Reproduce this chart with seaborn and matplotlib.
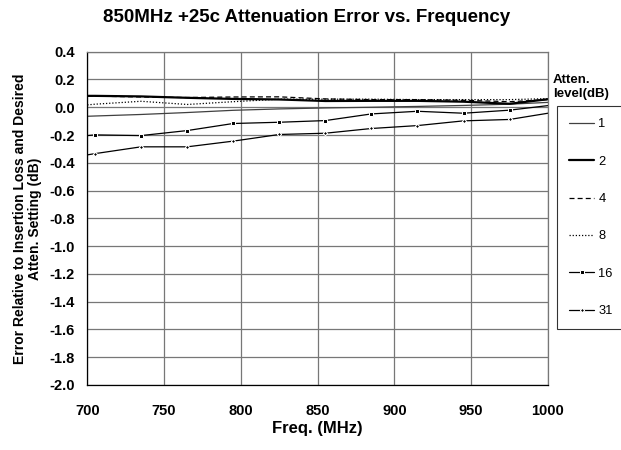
import matplotlib
matplotlib.use("Agg")
import matplotlib.pyplot as plt
import seaborn as sns
import numpy as np
import pandas as pd

freq = [700, 705, 735, 765, 795, 825, 855, 885, 915, 945, 975, 1000]
s1 = [-0.065, -0.063, -0.052, -0.038, -0.022, -0.012, -0.005, 0.000, 0.006, 0.013, 0.022, 0.035]
s2 = [0.082, 0.082, 0.078, 0.068, 0.060, 0.056, 0.045, 0.046, 0.046, 0.040, 0.025, 0.058]
s4 = [0.082, 0.080, 0.074, 0.070, 0.074, 0.075, 0.060, 0.055, 0.055, 0.050, 0.040, 0.055]
s8 = [0.017, 0.022, 0.043, 0.020, 0.040, 0.058, 0.058, 0.058, 0.055, 0.055, 0.055, 0.062]
s16 = [-0.204, -0.199, -0.204, -0.168, -0.117, -0.108, -0.096, -0.048, -0.029, -0.043, -0.021, 0.012]
s31 = [-0.343, -0.334, -0.285, -0.285, -0.244, -0.196, -0.187, -0.153, -0.132, -0.098, -0.088, -0.043]
labels = ["1", "2", "4", "8", "16", "31"]
yticks = [0.4, 0.2, 0.0, -0.2, -0.4, -0.6, -0.8, -1.0, -1.2, -1.4, -1.6, -1.8, -2.0]
xticks = [700, 750, 800, 850, 900, 950, 1000]

sns.set_style("white")
plt.rcParams['font.family'] = ['Liberation Sans', 'DejaVu Sans']
plt.rcParams.update({"text.color": "black", "axes.labelcolor": "black",
                     "xtick.color": "black", "ytick.color": "black"})

fig = plt.figure(figsize=(6.21, 4.5), dpi=100)
ax = fig.add_axes([87.3/621, 1-385/450, (548-87.3)/621, (385-51.7)/450])

series = [s1, s2, s4, s8, s16, s31]
styles = [
    dict(color="#404040", lw=0.9, ls="-"),
    dict(color="black", lw=1.6, ls="-"),
    dict(color="black", lw=0.9, ls=(0, (4, 2.5))),
    dict(color="black", lw=0.9, ls=(0, (1, 1.5))),
    dict(color="black", lw=0.9, ls="-", marker="s", ms=3, markevery=list(range(1, 11))),
    dict(color="black", lw=0.9, ls="-", marker="D", ms=2.2, markevery=list(range(1, 11))),
]
for vals, lab, st in zip(series, labels, styles):
    st = dict(st)
    ls = st.pop("ls")
    sns.lineplot(x=freq, y=vals, ax=ax, label=lab, linestyle=ls, **st)

ax.set_xlim(700, 1000)
ax.set_ylim(-2.0, 0.4)
ax.set_xticks(xticks)
ax.set_yticks(yticks)
ax.set_xticklabels([str(v) for v in xticks], fontsize=10.5, fontweight="bold")
ax.set_yticklabels([f"{v:.1f}" for v in yticks], fontsize=10.5, fontweight="bold")
ax.grid(True, color="#777777", lw=0.9)
ax.tick_params(axis="both", which="major", direction="out", length=3, width=0.8,
               color="black", labelcolor="black")
ax.tick_params(axis="y", pad=6)
ax.tick_params(axis="x", pad=11)
for side in ["top", "right"]:
    ax.spines[side].set_color("#777777")
    ax.spines[side].set_linewidth(0.9)
for side in ["left", "bottom"]:
    ax.spines[side].set_color("black")
    ax.spines[side].set_linewidth(0.9)

ax.set_xlabel("Freq. (MHz)", fontsize=12, fontweight="bold", labelpad=2, color="black")
ax.set_ylabel("Error Relative to Insertion Loss and Desired\nAtten. Setting (dB)",
              fontsize=10, fontweight="bold", labelpad=5, linespacing=1.1, color="black")

fig.text(307/621, 1-18/450, "850MHz +25c Attenuation Error vs. Frequency",
         ha="center", va="center", fontsize=13.5, fontweight="bold", color="black")
fig.text(553/621, 1-87/450, "Atten.\nlevel(dB)", ha="left", va="center",
         fontsize=9.5, fontweight="bold", linespacing=1.15, color="black")

ax.get_legend().remove()
handles, labs = ax.get_legend_handles_labels()
leg = fig.legend(handles, labs, loc="upper left", bbox_to_anchor=(557/621, 1-106/450),
                 frameon=True, fancybox=False, shadow=False, fontsize=9.3,
                 labelspacing=1.96, handlelength=1.95, handletextpad=0.3,
                 borderpad=0.95, borderaxespad=0, labelcolor="black")
leg.get_frame().set_edgecolor("black")
leg.get_frame().set_linewidth(0.8)

fig.savefig("out.png", dpi=100)
